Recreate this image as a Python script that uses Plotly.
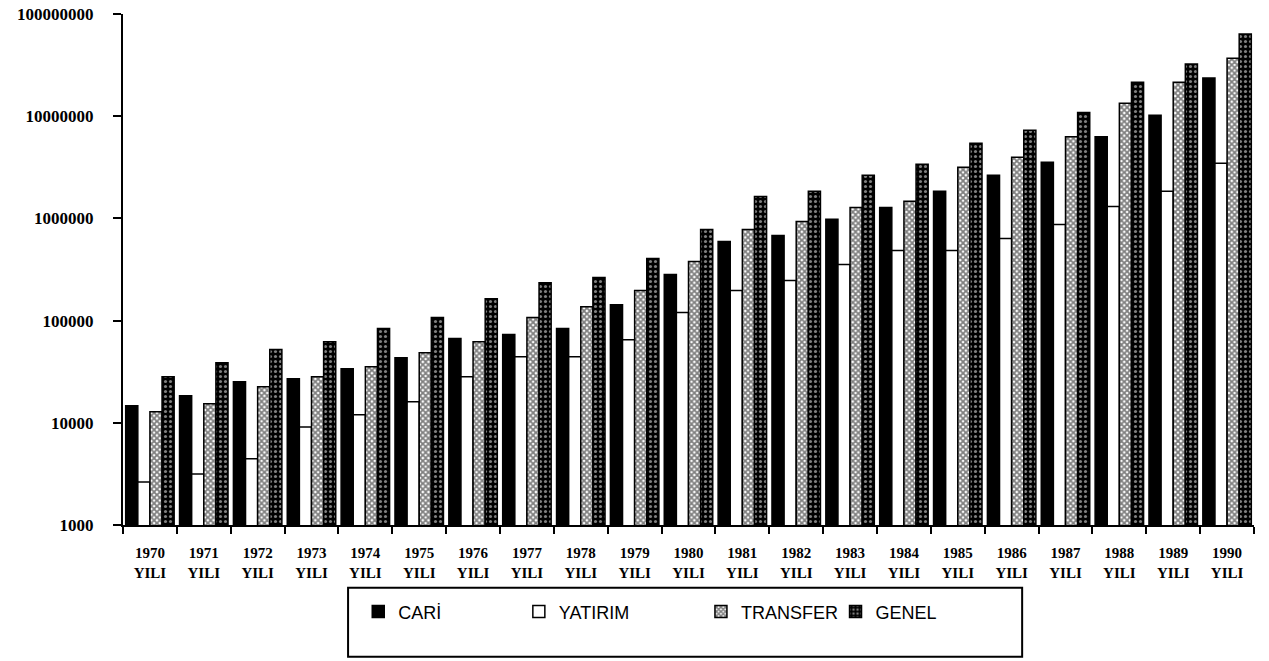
import plotly.graph_objects as go

# Yearly totals, 1970-1990 (log scale)
years = [str(y) for y in range(1970, 1991)]
year_labels = [f"{y}<br>YILI" for y in years]

cari = [14700, 18400, 25200, 27000, 33800, 43400, 66700, 73000, 83500, 143000,
        282000, 595000, 681000, 980000, 1280000, 1840000, 2640000, 3540000,
        6300000, 10200000, 23600000]
yatirim = [2640, 3160, 4440, 9100, 12000, 16100, 28200, 44400, 44400, 65100,
           120000, 197000, 247000, 353000, 485000, 485000, 637000, 870000,
           1310000, 1840000, 3460000]
transfer = [12800, 15400, 22500, 28200, 35400, 48500, 62200, 107000, 137000,
            197000, 379000, 780000, 934000, 1280000, 1470000, 3160000, 3970000,
            6300000, 13400000, 21500000, 37000000]
genel = [28200, 38700, 52000, 62200, 83500, 107000, 164000, 235000, 264000,
         405000, 780000, 1640000, 1840000, 2640000, 3380000, 5430000, 7300000,
         10900000, 21500000, 32400000, 63700000]

y_ticks = [1e3, 1e4, 1e5, 1e6, 1e7, 1e8]
y_tick_text = ["1000", "10000", "100000", "1000000", "10000000", "100000000"]

outline = dict(color="black", width=1.5)

fig = go.Figure()
fig.add_trace(go.Bar(name="CARİ", x=years, y=cari, legend="legend",
                     marker=dict(color="black", line=outline)))
fig.add_trace(go.Bar(name="YATIRIM", x=years, y=yatirim, legend="legend2",
                     marker=dict(color="white", line=outline)))
fig.add_trace(go.Bar(name="TRANSFER", x=years, y=transfer, legend="legend3",
                     marker=dict(color="white", line=outline,
                                 pattern=dict(shape="x", bgcolor="white",
                                              fgcolor="black", size=4,
                                              solidity=0.7))))
fig.add_trace(go.Bar(name="GENEL", x=years, y=genel, legend="legend4",
                     marker=dict(color="black", line=outline,
                                 pattern=dict(shape=".", bgcolor="black",
                                              fgcolor="white", size=5,
                                              solidity=0.3))))

serif = "Liberation Serif"


def legend_at(x):
    return dict(
        orientation="h",
        x=x, y=-0.17, xanchor="left", yanchor="middle",
        font=dict(family="Liberation Sans", size=18, color="black"),
        bgcolor="rgba(0,0,0,0)",
        itemclick=False, itemdoubleclick=False,
    )


fig.update_layout(
    barmode="group",
    bargap=0.1,
    bargroupgap=0,
    width=1269, height=661,
    margin=dict(l=123, r=15, t=14, b=136, autoexpand=False),
    paper_bgcolor="white",
    plot_bgcolor="white",
    showlegend=True,
    legend=legend_at(0.208),
    legend2=legend_at(0.350),
    legend3=legend_at(0.511),
    legend4=legend_at(0.630),
    shapes=[dict(type="rect", xref="paper", yref="paper",
                 x0=0.199, x1=0.795, y0=-0.258, y1=-0.123,
                 line=dict(color="black", width=2), fillcolor="rgba(0,0,0,0)")],
)

fig.update_xaxes(
    type="category",
    tickvals=years, ticktext=year_labels,
    tickson="boundaries",
    ticks="outside", ticklen=7, tickwidth=2, tickcolor="black",
    showline=True, linecolor="black", linewidth=2,
    showgrid=False, zeroline=False, automargin=False,
    tickfont=dict(family=serif, size=15, color="black", weight="bold"),
    ticklabelstandoff=13,
)

fig.update_yaxes(
    type="log", range=[3, 8],
    tickvals=y_ticks, ticktext=y_tick_text,
    ticks="outside", ticklen=8, tickwidth=2, tickcolor="black",
    showline=True, linecolor="black", linewidth=2,
    showgrid=False, zeroline=False, automargin=False,
    tickfont=dict(family=serif, size=17, color="black", weight="bold"),
    ticklabelstandoff=16,
)

fig.write_html("out.html")
